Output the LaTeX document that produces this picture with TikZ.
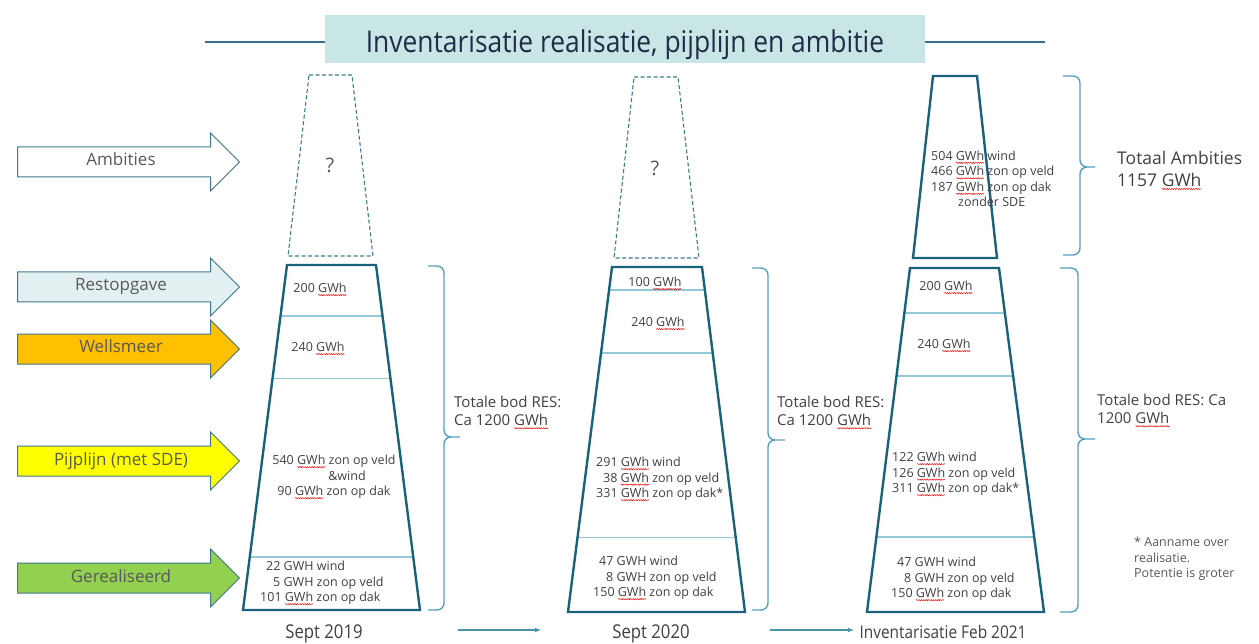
\documentclass[tikz,border=0pt]{standalone}
\usepackage{fontspec}
\setmainfont{Open Sans}
\newfontfamily\narrowfont[FakeStretch=0.88]{Open Sans}
\usepackage{tikz}
\usetikzlibrary{positioning}
\usetikzlibrary{calc}
\usetikzlibrary{shapes.arrows}
\usetikzlibrary{decorations.pathmorphing}

\definecolor{tealdark}{RGB}{26,98,122}
\definecolor{tealbrace}{RGB}{84,162,186}
\definecolor{tealline}{RGB}{148,201,216}
\definecolor{titlefill}{RGB}{200,230,230}
\definecolor{titlerule}{RGB}{52,112,145}
\definecolor{titleink}{RGB}{32,45,72}
\definecolor{inkgray}{RGB}{64,64,64}
\definecolor{labelgray}{RGB}{89,89,89}
\definecolor{arrowedge}{RGB}{65,120,143}
\definecolor{restfill}{RGB}{226,240,241}
\definecolor{wellfill}{RGB}{255,192,0}
\definecolor{pijpfill}{RGB}{255,255,0}
\definecolor{realfill}{RGB}{146,208,80}

\newcommand{\gwh}{\tikz[baseline=(gw.base)]{\node[inner sep=0pt,outer sep=0pt] (gw) {GWh};\draw[overlay,red,line width=0.45pt,decorate,decoration={snake,amplitude=0.6pt,segment length=2.4pt}] ([yshift=-2.4pt]gw.base west) -- ([yshift=-2.4pt]gw.base east);}}

\tikzset{
  titlebox/.style={fill=titlefill, minimum width=600pt, minimum height=48pt, inner sep=0pt},
  titletext/.style={font=\narrowfont\fontsize{30}{34}\selectfont, text=titleink, inner sep=0pt},
  titlerule/.style={draw=titlerule, line width=2.8pt},
  stagearrow/.style={single arrow, draw=arrowedge, line width=1pt, anchor=west,
    minimum height=222pt, single arrow head extend=14pt,
    text height=12pt, text depth=4pt, inner ysep=6.5pt, inner xsep=0pt,
    font=\fontsize{17}{20}\selectfont, text=labelgray},
  funnel/.style={draw=tealdark, line width=2.4pt, line join=miter},
  ghost/.style={draw=tealdark!85, line width=1.1pt, dash pattern=on 4pt off 2.5pt},
  divider/.style={draw=tealline, line width=1.3pt},
  amount/.style={font=\fontsize{12.5}{15.5}\selectfont, text=inkgray, inner sep=0pt},
  unknown/.style={font=\fontsize{20}{24}\selectfont, text=labelgray},
  totalbrace/.style={draw=tealbrace, line width=1.4pt, rounded corners=7pt},
  totaltext/.style={font=\fontsize{15}{18.5}\selectfont, text=inkgray, align=left, anchor=west, inner sep=0pt},
  ambtext/.style={font=\fontsize{17.5}{22}\selectfont, text=inkgray, align=left, anchor=west, inner sep=0pt},
  notetext/.style={font=\fontsize{12.5}{15.5}\selectfont, text=labelgray, align=left, anchor=west, inner sep=0pt},
  datelabel/.style={font=\narrowfont\fontsize{19}{22}\selectfont, text=inkgray, anchor=base, inner sep=0pt},
  timearrow/.style={draw=tealbrace!90!black, line width=1.1pt, -latex}
}

\begin{document}
\begin{tikzpicture}[x=1pt,y=-1pt]
\useasboundingbox (0,0) rectangle (1259,644);

% title
\node[titlebox] (title) at (625,39) {};
\node[titletext, anchor=base] (titlelbl) at (625,53) {Inventarisatie realisatie, pijplijn en ambitie};
\coordinate (ruleL) at (205,42);
\coordinate (ruleR) at (1045,42);
\draw[titlerule] (ruleL) -- (ruleL -| title.west);
\draw[titlerule] (title.east |- ruleR) -- (ruleR);

% categories
\node[stagearrow, fill=white] (ambities) at (17,162) {Ambities};
\node[stagearrow, fill=restfill] (restopgave) at (17,287) {Restopgave};
\node[stagearrow, fill=wellfill] (wellsmeer) at (17,349) {Wellsmeer};
\node[stagearrow, fill=pijpfill] (pijplijn) at (17,461) {Pijplijn (met SDE)};
\node[stagearrow, fill=realfill] (gerealiseerd) at (17,578) {Gerealiseerd};

% Sept 2019
\draw[ghost] (309,75) -- (352,75) -- (373,256) -- (288,256) -- cycle;
\node[unknown] (q19) at (330,165) {?};
\coordinate (f1tl) at (287,265);
\coordinate (f1tr) at (376,265);
\coordinate (f1br) at (420,610);
\coordinate (f1bl) at (243,610);
\foreach \t in {0.148,0.328,0.846}
  \draw[divider] ($(f1tl)!\t!(f1bl)$) -- ($(f1tr)!\t!(f1br)$);
\draw[funnel] (f1tl) -- (f1tr) -- (f1br) -- (f1bl) -- cycle;
\node[amount] (r19) at (320,288) {200 \gwh};
\node[amount] (w19) at (318,347) {240 \gwh};
\node[amount, align=center] (p19) at (334,477) {540 \gwh{} zon op veld\\\hspace*{26pt}\&wind\\90 \gwh{} zon op dak};
\node[amount, align=left, anchor=west] (g19) at (260,583) {\hspace*{6pt}22 GWH wind\\\hspace*{13pt}5 GWH zon op veld\\101 \gwh{} zon op dak};
\coordinate (b1top) at (428,266);
\coordinate (b1bot) at (428,610);
\coordinate (b1mid) at (444,437);
\coordinate (b1tip) at (460,437);
\draw[totalbrace] (b1top) -| (b1mid) -- (b1tip) (b1bot) -| (b1mid) -- (b1tip);
\node[totaltext] (t19) at (454,411) {Totale bod RES:\\Ca 1200 \gwh};

% Sept 2020
\draw[ghost] (634,77) -- (678,77) -- (699,258) -- (614,258) -- cycle;
\node[unknown] (q20) at (655,168) {?};
\coordinate (f2tl) at (612,267);
\coordinate (f2tr) at (702,267);
\coordinate (f2br) at (745,612);
\coordinate (f2bl) at (568,612);
\foreach \t in {0.067,0.249,0.785}
  \draw[divider] ($(f2tl)!\t!(f2bl)$) -- ($(f2tr)!\t!(f2br)$);
\draw[funnel] (f2tl) -- (f2tr) -- (f2br) -- (f2bl) -- cycle;
\node[amount] (r20) at (655,282) {100 \gwh};
\node[amount] (w20) at (658,322) {240 \gwh};
\node[amount, align=left, anchor=west] (p20) at (596,479) {291 \gwh{} wind\\\hspace*{7pt}38 \gwh{} zon op veld\\331 \gwh{} zon op dak*};
\node[amount, align=left, anchor=west] (g20) at (593,578) {\hspace*{6pt}47 GWH wind\\\hspace*{13pt}8 GWH zon op veld\\150 \gwh{} zon op dak};
\coordinate (b2top) at (752,268);
\coordinate (b2bot) at (752,610);
\coordinate (b2mid) at (768,440);
\coordinate (b2tip) at (785,440);
\draw[totalbrace] (b2top) -| (b2mid) -- (b2tip) (b2bot) -| (b2mid) -- (b2tip);
\node[totaltext] (t20) at (777,411) {Totale bod RES:\\Ca 1200 \gwh};

% Feb 2021
\draw[funnel] (933,76) -- (977,76) -- (997,258) -- (913,258) -- cycle;
\node[amount, align=left, anchor=west] (a21) at (931,179) {504 \gwh{} wind\\466 \gwh{} zon op veld\\187 \gwh{} zon op dak\\\hspace*{27pt}zonder SDE};
\coordinate (b4top) at (1063,76);
\coordinate (b4bot) at (1063,255);
\coordinate (b4mid) at (1080,167);
\coordinate (b4tip) at (1095,167);
\draw[totalbrace] (b4top) -| (b4mid) -- (b4tip) (b4bot) -| (b4mid) -- (b4tip);
\node[ambtext] (t21a) at (1117,169) {Totaal Ambities\\1157 \gwh};
\coordinate (f3tl) at (910,268);
\coordinate (f3tr) at (999,268);
\coordinate (f3br) at (1044,612);
\coordinate (f3bl) at (867,612);
\foreach \t in {0.131,0.314,0.782}
  \draw[divider] ($(f3tl)!\t!(f3bl)$) -- ($(f3tr)!\t!(f3br)$);
\draw[funnel] (f3tl) -- (f3tr) -- (f3br) -- (f3bl) -- cycle;
\node[amount] (r21) at (946,286) {200 \gwh};
\node[amount] (w21) at (944,344) {240 \gwh};
\node[amount, align=left, anchor=west] (p21) at (892,474) {122 \gwh{} wind\\126 \gwh{} zon op veld\\311 \gwh{} zon op dak*};
\node[amount, align=left, anchor=west] (g21) at (891,579) {\hspace*{6pt}47 GWH wind\\\hspace*{13pt}8 GWH zon op veld\\150 \gwh{} zon op dak};
\coordinate (b3top) at (1060,268);
\coordinate (b3bot) at (1060,612);
\coordinate (b3mid) at (1078,439);
\coordinate (b3tip) at (1095,439);
\draw[totalbrace] (b3top) -| (b3mid) -- (b3tip) (b3bot) -| (b3mid) -- (b3tip);
\node[totaltext] (t21) at (1097,409) {Totale bod RES: Ca\\1200 \gwh};
\node[notetext] (note) at (1134,559) {* Aanname over\\realisatie.\\Potentie is groter};

% timeline
\node[datelabel] (sept19) at (324,638) {Sept 2019};
\node[datelabel] (sept20) at (651,638) {Sept 2020};
\node[datelabel, font=\narrowfont\fontsize{17.5}{21}\selectfont] (feb21) at (943,638) {Inventarisatie Feb 2021};
\coordinate (go1a) at (458,630);
\coordinate (go1b) at (541,630);
\coordinate (go2a) at (770,630);
\coordinate (go2b) at (854,630);
\draw[timearrow] (go1a) -- (go1b);
\draw[timearrow] (go2a) -- (go2b);
\end{tikzpicture}
\end{document}
